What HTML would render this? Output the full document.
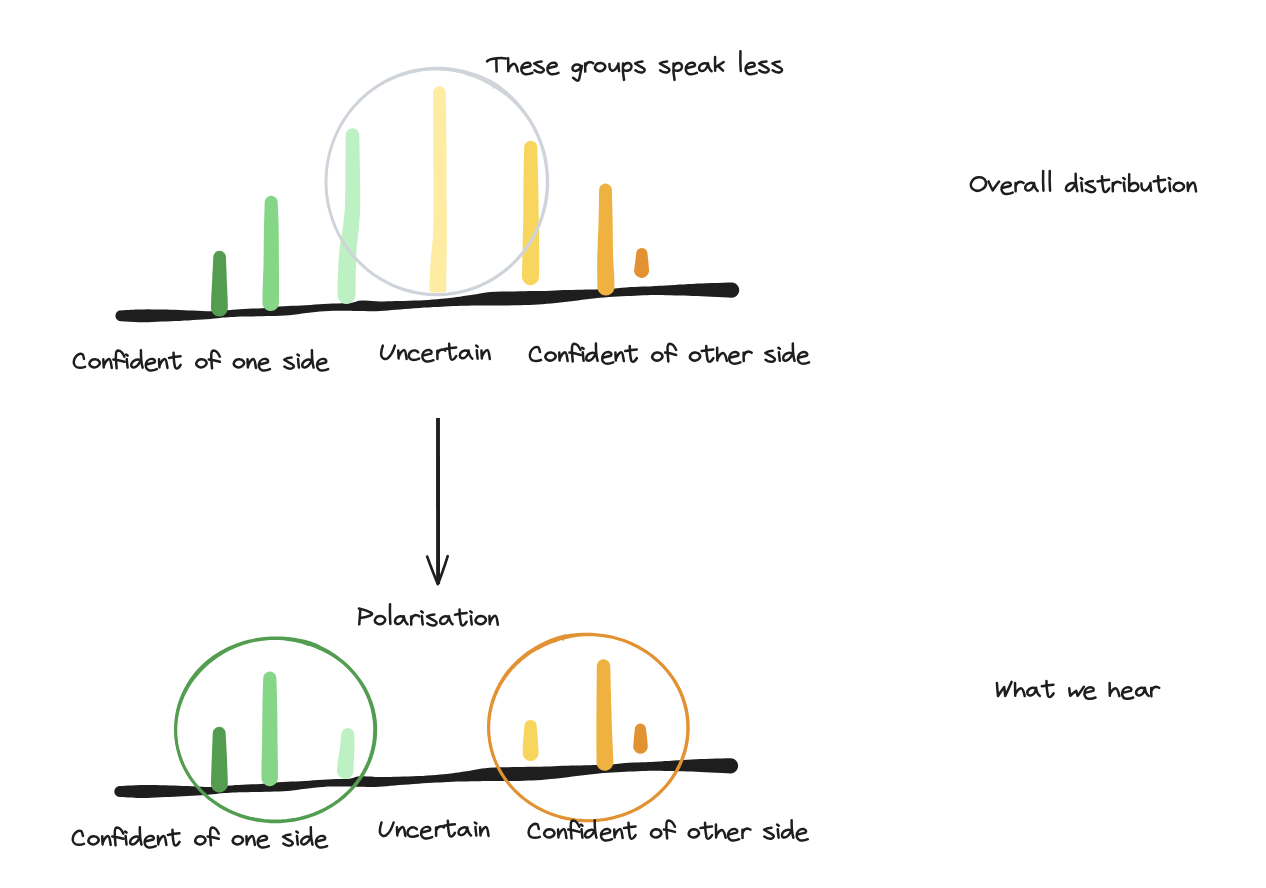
<!DOCTYPE html>
<html lang="en"><head><meta charset="utf-8"><title>Polarisation</title>
<style>
html,body{margin:0;padding:0;background:#fff;}
body{width:1266px;height:888px;overflow:hidden;font-family:"Liberation Sans",sans-serif;}
svg{display:block;}
.lbl{font-family:"Liberation Sans",sans-serif;font-size:22px;fill:#1e1e1e;fill-opacity:0;}
</style></head>
<body>
<svg width="1266" height="888" viewBox="0 0 1266 888">
<rect width="1266" height="888" fill="#ffffff"/>
<g id="top-chart">
<path fill="#fdeca1" d="M433.2,92.6L433.2,96.3L433.2,101.1L433.2,106.8L433.2,113.2L433.2,120.0L433.2,126.9L433.2,133.7L433.2,140.0L433.2,146.2L433.3,152.6L433.3,159.0L433.4,165.5L433.4,171.9L433.5,178.2L433.5,184.2L433.5,190.0L433.5,195.6L433.5,201.0L433.5,206.3L433.5,211.4L433.5,216.3L433.4,221.1L433.3,225.6L433.2,229.9L433.0,233.9L432.8,237.8L432.5,241.4L432.2,244.9L431.9,248.2L431.5,251.4L431.3,254.6L431.0,257.7L430.8,260.6L430.6,263.4L430.4,266.2L430.2,268.7L430.1,271.2L429.9,273.5L429.8,275.7L429.7,277.8L429.6,279.7L429.6,281.5L429.5,283.1L429.5,284.6L429.5,286.0L429.5,287.1L429.5,288.0L429.5,288.8L429.7,290.4L430.2,291.3L431.1,291.8L432.3,292.2L434.2,292.5L437.9,292.6L441.6,292.5L443.4,292.3L444.7,291.9L445.6,291.3L446.1,290.5L446.3,288.8L446.3,288.0L446.3,287.1L446.3,285.9L446.3,284.7L446.3,283.3L446.3,281.7L446.3,280.0L446.3,278.2L446.3,276.3L446.4,274.1L446.4,271.9L446.4,269.4L446.5,266.8L446.5,264.1L446.6,261.3L446.6,258.3L446.6,255.3L446.7,252.2L446.7,249.0L446.7,245.6L446.8,242.1L446.8,238.3L446.8,234.3L446.8,230.1L446.8,225.7L446.8,221.1L446.7,216.3L446.7,211.4L446.6,206.2L446.6,201.0L446.5,195.5L446.5,190.0L446.5,184.2L446.5,178.1L446.5,171.8L446.5,165.4L446.5,159.0L446.5,152.5L446.4,146.2L446.4,140.0L446.3,133.6L446.3,126.8L446.2,119.9L446.1,113.1L446.0,106.7L445.9,101.0L445.8,96.2L445.8,92.6L445.6,90.9L444.9,89.4L443.9,88.1L442.6,87.1L441.1,86.5L439.5,86.3L437.8,86.5L436.3,87.2L435.0,88.2L434.0,89.5L433.4,91.0Z"/>
<path fill="#1e1e1e" d="M120.8,321.2L122.1,321.3L124.0,321.4L126.2,321.5L128.6,321.7L131.0,321.8L133.3,321.9L135.6,322.1L138.1,322.2L141.0,322.2L144.3,322.2L148.1,322.2L152.5,322.0L157.1,321.8L161.8,321.6L166.4,321.4L170.8,321.3L175.2,321.1L179.6,320.9L184.1,320.6L188.5,320.4L193.1,320.1L197.8,319.8L202.4,319.5L206.8,319.2L210.8,318.9L214.2,318.6L217.2,318.2L219.9,317.9L222.5,317.6L225.3,317.4L228.1,317.2L230.9,317.0L233.7,316.9L236.7,316.8L240.2,316.6L244.1,316.5L248.4,316.5L253.0,316.4L257.7,316.3L262.3,316.2L266.7,316.1L271.2,316.0L275.6,315.9L280.1,315.8L284.5,315.5L289.0,315.2L293.4,314.7L297.8,314.2L302.2,313.6L306.6,313.1L311.1,312.6L315.5,312.1L319.9,311.6L324.3,311.2L328.7,310.9L333.2,310.7L337.9,310.7L342.6,310.7L347.0,310.8L350.8,310.8L353.8,310.9L356.1,310.9L357.9,311.0L359.5,311.0L361.7,311.1L364.7,311.1L368.2,311.2L372.0,311.2L376.0,311.2L380.1,311.0L384.0,310.8L387.9,310.5L391.9,310.1L396.0,309.8L400.2,309.4L404.8,309.0L409.7,308.7L414.6,308.3L419.5,308.0L424.2,307.6L428.8,307.4L433.3,307.1L437.7,306.9L441.7,306.7L445.3,306.5L448.2,306.3L450.5,306.2L452.6,306.1L454.7,306.0L457.4,305.9L460.6,305.8L464.3,305.7L468.1,305.7L471.9,305.6L475.5,305.6L478.6,305.5L481.3,305.5L484.0,305.4L487.0,305.4L490.9,305.4L495.9,305.4L501.8,305.4L508.2,305.4L514.5,305.3L520.1,305.2L525.0,305.1L529.5,304.9L533.8,304.7L538.1,304.5L542.4,304.2L546.9,303.8L551.4,303.4L555.8,303.0L560.2,302.5L564.6,302.0L569.0,301.5L573.4,300.9L577.8,300.4L582.2,299.8L586.6,299.3L591.0,298.8L595.5,298.3L599.9,297.8L604.3,297.4L608.8,297.0L613.3,296.7L617.8,296.5L622.2,296.3L626.6,296.1L630.8,295.9L635.0,295.7L639.1,295.5L643.1,295.3L646.8,295.2L650.1,295.0L652.9,295.0L655.0,295.0L657.0,295.0L659.2,295.1L662.2,295.1L666.0,295.2L670.3,295.3L675.0,295.4L679.7,295.5L684.3,295.6L688.6,295.8L692.9,295.9L697.3,296.1L701.7,296.3L706.3,296.5L711.5,296.7L717.3,297.0L723.1,297.3L728.0,297.5L731.5,297.7L733.5,297.5L735.3,296.7L736.9,295.5L738.1,294.0L738.9,292.2L739.2,290.2L739.0,288.2L738.2,286.4L737.0,284.8L735.5,283.6L733.7,282.8L731.7,282.5L728.2,282.6L723.2,282.7L717.5,282.9L711.6,283.0L706.3,283.2L701.7,283.4L697.2,283.6L692.8,283.9L688.5,284.1L684.1,284.4L679.5,284.6L674.8,284.9L670.1,285.2L665.8,285.4L662.0,285.7L659.1,285.8L656.8,286.0L654.8,286.1L652.6,286.2L649.9,286.4L646.5,286.5L642.7,286.6L638.7,286.7L634.6,286.9L630.4,287.1L626.1,287.4L621.7,287.8L617.2,288.3L612.7,288.7L608.2,289.0L603.8,289.2L599.4,289.3L594.9,289.4L590.4,289.5L586.0,289.6L581.5,289.7L577.1,289.8L572.6,289.9L568.2,290.0L563.8,290.1L559.3,290.3L554.9,290.5L550.5,290.7L546.1,290.9L541.8,291.0L537.5,291.1L533.4,291.1L529.2,291.1L524.7,291.2L519.9,291.3L514.3,291.4L508.0,291.5L501.6,291.6L495.6,291.8L490.3,292.1L486.2,292.5L483.0,292.9L480.2,293.4L477.5,293.9L474.5,294.4L471.0,295.0L467.3,295.5L463.5,296.1L459.9,296.7L456.6,297.1L454.0,297.5L451.8,297.8L449.8,298.0L447.6,298.2L444.7,298.5L441.1,298.8L437.1,299.2L432.8,299.5L428.3,299.9L423.8,300.2L419.1,300.4L414.2,300.6L409.2,300.7L404.4,300.9L399.8,301.0L395.5,301.1L391.4,301.2L387.5,301.3L383.7,301.4L379.9,301.4L376.2,301.2L372.3,300.9L368.5,300.7L364.9,300.5L361.5,300.5L358.7,300.8L356.5,301.4L354.8,302.0L353.0,302.5L350.4,303.0L346.8,303.2L342.5,303.3L337.8,303.4L333.0,303.5L328.3,303.7L323.8,304.0L319.3,304.3L314.8,304.6L310.4,305.0L306.0,305.3L301.5,305.5L297.1,305.7L292.7,305.8L288.3,306.0L283.9,306.3L279.5,306.6L275.1,307.0L270.7,307.5L266.3,307.9L261.9,308.2L257.4,308.5L252.8,308.6L248.2,308.8L243.8,309.0L239.8,309.2L236.3,309.4L233.2,309.7L230.4,309.9L227.6,310.2L224.7,310.4L221.9,310.6L219.2,310.9L216.6,311.1L213.7,311.2L210.4,311.3L206.6,311.2L202.3,311.1L197.7,310.8L193.0,310.6L188.5,310.4L184.0,310.2L179.6,310.0L175.2,309.8L170.7,309.7L166.2,309.6L161.7,309.5L156.9,309.4L152.3,309.4L148.0,309.3L144.1,309.4L140.9,309.4L138.1,309.5L135.7,309.6L133.3,309.7L131.0,309.8L128.6,309.9L126.2,310.1L124.0,310.2L122.1,310.3L120.8,310.4L119.4,310.6L118.1,311.1L117.0,312.0L116.1,313.1L115.6,314.4L115.4,315.8L115.6,317.2L116.1,318.5L117.0,319.6L118.1,320.5L119.4,321.0Z"/>
<path fill="#549d50" d="M213.3,257.1L213.2,258.9L213.1,261.3L212.9,264.3L212.8,267.5L212.6,270.9L212.4,274.2L212.3,277.3L212.2,280.0L212.0,282.3L211.9,284.5L211.8,286.6L211.7,288.6L211.6,290.5L211.5,292.4L211.4,294.2L211.3,296.0L211.2,297.8L211.2,299.6L211.1,301.4L211.1,303.1L211.0,304.6L211.0,306.0L211.0,307.2L211.0,308.1L211.2,310.3L212.1,312.3L213.4,314.1L215.2,315.4L217.2,316.3L219.4,316.5L221.6,316.3L223.6,315.4L225.4,314.1L226.7,312.3L227.6,310.3L227.8,308.1L227.8,307.2L227.8,306.0L227.8,304.6L227.7,303.0L227.7,301.4L227.6,299.6L227.6,297.8L227.5,296.0L227.4,294.3L227.4,292.5L227.3,290.6L227.2,288.7L227.1,286.7L227.0,284.6L226.9,282.4L226.8,280.0L226.7,277.3L226.6,274.3L226.5,270.9L226.3,267.6L226.2,264.3L226.1,261.4L226.0,258.9L225.9,257.1L225.7,255.5L225.1,254.0L224.1,252.7L222.8,251.7L221.3,251.0L219.6,250.8L218.0,251.0L216.5,251.6L215.2,252.6L214.2,253.9L213.5,255.4Z"/>
<path fill="#85d787" d="M264.7,202.3L264.6,204.1L264.6,206.2L264.5,208.8L264.4,211.8L264.3,215.0L264.2,218.5L264.1,222.2L264.0,226.0L263.9,230.2L263.9,235.0L263.8,240.1L263.7,245.4L263.7,250.7L263.6,255.8L263.5,260.6L263.5,264.9L263.4,268.8L263.2,272.4L263.1,275.8L263.0,279.0L262.9,282.0L262.8,284.8L262.7,287.4L262.6,289.9L262.5,292.2L262.5,294.3L262.5,296.2L262.5,297.9L262.5,299.4L262.5,300.7L262.5,301.9L262.5,302.7L262.7,304.9L263.5,306.9L264.8,308.6L266.5,309.9L268.5,310.8L270.6,311.0L272.8,310.8L274.8,310.0L276.5,308.7L277.8,307.0L278.7,305.0L278.9,302.9L279.0,301.9L279.0,300.8L279.0,299.5L279.0,298.0L279.0,296.3L279.0,294.4L279.0,292.4L279.0,290.1L279.0,287.7L279.0,285.1L279.0,282.3L279.0,279.3L279.0,276.1L279.0,272.6L279.0,269.0L278.9,265.1L278.9,260.7L278.9,255.9L278.9,250.8L278.8,245.4L278.8,240.1L278.7,235.0L278.7,230.2L278.6,226.0L278.5,222.1L278.4,218.4L278.3,214.9L278.1,211.7L278.0,208.7L277.9,206.2L277.8,204.0L277.7,202.3L277.5,200.6L276.8,199.0L275.8,197.7L274.4,196.7L272.8,196.0L271.2,195.8L269.5,196.0L267.9,196.7L266.6,197.7L265.6,199.1L264.9,200.7Z"/>
<path fill="#bdf0c2" d="M345.7,135.1L345.7,137.8L345.6,141.4L345.6,145.6L345.5,150.4L345.5,155.4L345.4,160.5L345.3,165.4L345.3,170.0L345.3,174.5L345.3,179.1L345.3,183.7L345.3,188.3L345.2,192.8L345.2,197.0L345.1,201.1L345.0,204.8L344.8,208.1L344.6,211.2L344.4,214.0L344.1,216.6L343.8,219.2L343.5,221.8L343.2,224.4L342.8,227.1L342.5,229.8L342.1,232.4L341.7,235.0L341.2,237.7L340.7,240.4L340.3,243.3L339.9,246.2L339.5,249.3L339.2,252.4L339.0,255.6L338.7,258.9L338.5,262.2L338.3,265.5L338.2,268.7L338.0,271.8L337.9,274.7L337.8,277.7L337.7,280.7L337.6,283.7L337.6,286.5L337.6,289.2L337.5,291.5L337.5,293.5L337.5,295.0L337.8,297.3L338.7,299.5L340.1,301.4L341.9,302.8L344.1,303.8L346.4,304.1L348.7,303.8L350.9,302.9L352.8,301.5L354.2,299.7L355.2,297.5L355.5,295.2L355.5,293.7L355.5,291.7L355.5,289.3L355.5,286.7L355.6,283.9L355.6,281.0L355.6,278.1L355.7,275.3L355.8,272.4L355.8,269.3L355.9,266.2L356.0,263.0L356.1,259.8L356.2,256.7L356.3,253.6L356.5,250.7L356.7,248.0L356.9,245.4L357.2,242.7L357.5,240.1L357.9,237.4L358.2,234.6L358.5,231.7L358.8,228.9L359.0,226.1L359.2,223.4L359.4,220.7L359.6,218.0L359.8,215.1L360.0,212.1L360.1,208.8L360.2,205.2L360.2,201.3L360.3,197.1L360.2,192.7L360.2,188.2L360.1,183.6L360.0,179.0L360.0,174.4L359.9,170.0L359.8,165.4L359.8,160.4L359.7,155.4L359.6,150.3L359.5,145.6L359.4,141.3L359.3,137.8L359.3,135.1L359.1,133.3L358.4,131.7L357.3,130.3L355.9,129.2L354.2,128.5L352.5,128.3L350.7,128.5L349.1,129.2L347.7,130.3L346.6,131.7L345.9,133.4Z"/>
<path fill="#f8d55c" d="M524.1,147.4L524.1,149.9L524.0,153.1L523.9,156.9L523.8,161.2L523.7,165.8L523.6,170.6L523.6,175.4L523.5,180.0L523.5,184.7L523.4,189.6L523.4,194.7L523.4,199.9L523.3,205.1L523.3,210.2L523.3,215.2L523.2,220.0L523.1,224.7L523.0,229.4L522.9,234.0L522.8,238.6L522.7,243.0L522.6,247.2L522.5,251.2L522.4,254.9L522.3,258.4L522.3,261.8L522.2,264.9L522.2,267.9L522.1,270.6L522.1,273.0L522.0,275.0L522.0,276.6L522.3,278.8L523.1,280.8L524.4,282.6L526.1,284.0L528.2,284.9L530.4,285.2L532.6,284.9L534.6,284.1L536.4,282.8L537.8,281.1L538.7,279.0L539.0,276.8L539.0,275.2L539.0,273.3L539.1,270.9L539.1,268.2L539.2,265.2L539.2,262.0L539.2,258.6L539.2,255.1L539.2,251.4L539.1,247.4L539.1,243.1L539.1,238.7L539.0,234.1L538.9,229.4L538.9,224.7L538.8,220.0L538.7,215.2L538.6,210.1L538.6,205.0L538.5,199.8L538.4,194.6L538.3,189.6L538.2,184.6L538.1,180.0L538.0,175.3L537.9,170.5L537.8,165.8L537.7,161.2L537.5,156.9L537.4,153.1L537.4,149.8L537.3,147.4L537.1,145.7L536.4,144.1L535.4,142.7L534.0,141.7L532.4,141.0L530.7,140.8L529.0,141.0L527.4,141.7L526.0,142.7L525.0,144.1L524.3,145.7Z"/>
<path fill="#efb240" d="M599.1,190.0L599.1,192.3L599.0,195.3L599.0,198.9L598.9,202.8L598.9,207.1L598.8,211.5L598.7,215.8L598.6,220.0L598.5,224.2L598.3,228.7L598.1,233.3L597.9,238.0L597.7,242.6L597.6,247.1L597.4,251.3L597.3,255.0L597.2,258.4L597.2,261.4L597.2,264.2L597.2,266.7L597.2,269.0L597.2,271.2L597.2,273.2L597.3,275.2L597.3,277.1L597.3,279.0L597.3,280.8L597.3,282.4L597.3,283.9L597.3,285.2L597.3,286.3L597.4,287.1L597.7,289.3L598.6,291.4L599.9,293.1L601.7,294.5L603.8,295.3L606.0,295.5L608.2,295.2L610.3,294.3L612.0,293.0L613.4,291.2L614.2,289.1L614.4,286.9L614.4,286.0L614.4,284.9L614.4,283.6L614.4,282.1L614.3,280.5L614.3,278.7L614.2,276.8L614.1,274.8L614.0,272.7L613.9,270.6L613.8,268.4L613.6,266.2L613.5,263.7L613.3,261.1L613.2,258.2L613.1,255.0L613.0,251.4L612.9,247.3L612.9,242.9L612.8,238.2L612.8,233.5L612.7,228.8L612.7,224.3L612.6,220.0L612.5,215.8L612.4,211.4L612.3,207.0L612.2,202.8L612.1,198.8L612.0,195.2L612.0,192.2L611.9,190.0L611.7,188.3L611.0,186.8L610.0,185.5L608.7,184.4L607.1,183.8L605.5,183.6L603.8,183.8L602.3,184.5L601.0,185.5L599.9,186.8L599.3,188.4Z"/>
<path fill="#e29232" d="M636.2,253.6L636.1,254.3L636.0,255.1L635.9,256.2L635.8,257.3L635.6,258.5L635.5,259.7L635.3,260.9L635.2,261.9L635.1,263.0L634.9,264.1L634.7,265.3L634.6,266.5L634.4,267.7L634.3,268.7L634.2,269.6L634.1,270.2L634.3,272.2L635.0,274.0L636.2,275.6L637.7,276.8L639.5,277.6L641.4,277.9L643.4,277.7L645.2,277.0L646.8,275.8L648.0,274.3L648.8,272.5L649.1,270.6L649.0,270.0L649.0,269.1L648.9,268.1L648.8,266.9L648.7,265.7L648.6,264.4L648.5,263.2L648.4,262.1L648.3,260.9L648.1,259.7L648.0,258.5L647.9,257.3L647.7,256.1L647.6,255.1L647.5,254.2L647.4,253.6L647.2,252.1L646.6,250.8L645.8,249.6L644.6,248.7L643.2,248.2L641.8,248.0L640.3,248.2L639.0,248.8L637.8,249.6L636.9,250.8L636.4,252.2Z"/>
<g fill="none" stroke="#ced4da" stroke-width="2.5" stroke-linecap="round" stroke-linejoin="round"><path d="M487.6,79.8L492.1,82.3L496.5,85.0L500.7,87.9L504.8,91.0L508.7,94.4L512.4,97.9L516.0,101.6L519.4,105.5L522.6,109.4L525.7,113.6L528.6,117.8L531.4,122.1L533.9,126.6L536.3,131.2L538.4,135.9L540.4,140.6L542.1,145.5L543.6,150.4L544.9,155.4L546.0,160.5L546.8,165.6L547.4,170.8L547.8,175.9L548.0,181.1L547.9,186.3L547.5,191.4L547.0,196.6L546.2,201.7L545.2,206.8L543.9,211.8L542.5,216.7L540.8,221.6L538.9,226.4L536.7,231.1L534.4,235.7L531.9,240.2L529.2,244.5L526.2,248.8L523.1,252.9L519.9,256.8L516.4,260.6L512.8,264.2L509.0,267.7L505.1,271.0L501.0,274.0L496.8,276.9L492.5,279.6L488.1,282.1L483.5,284.4L478.9,286.5L474.2,288.4L469.3,290.0L464.5,291.4L459.5,292.6L454.5,293.5L449.5,294.2L444.5,294.7L439.4,295.0L434.3,295.0L429.3,294.7L424.2,294.3L419.2,293.6L414.2,292.6L409.3,291.5L404.4,290.1L399.6,288.4L394.8,286.6L390.2,284.5L385.7,282.2L381.2,279.7L376.9,277.0L372.7,274.2L368.6,271.1L364.7,267.8L360.9,264.3L357.3,260.7L353.9,256.9L350.6,253.0L347.5,248.9L344.6,244.7L341.9,240.3L339.4,235.8L337.0,231.2L334.9,226.6L333.0,221.8L331.4,216.9L329.9,212.0L328.6,206.9L327.6,201.9L326.8,196.8L326.3,191.7L325.9,186.5L325.8,181.3L326.0,176.2L326.3,171.0L326.9,165.9L327.7,160.8L328.8,155.8L330.0,150.8L331.5,145.8L333.2,141.0L335.1,136.2L337.3,131.5L339.6,126.9L342.2,122.5L344.9,118.1L347.8,113.9L350.9,109.8L354.2,105.9L357.7,102.1L361.3,98.5L365.1,95.1L369.0,91.8L373.1,88.7L377.3,85.8L381.6,83.2L386.1,80.7L390.6,78.4L395.3,76.3L400.0,74.5L404.8,72.9L409.7,71.5L414.7,70.3L419.7,69.4L424.7,68.7L429.8,68.3L434.8,68.1L439.9,68.1L445.0,68.3L450.0,68.8L455.1,69.5L460.1,70.4L465.1,71.5L470.0,72.9L474.8,74.4L479.6,76.2L484.4,78.2L489.0,80.4L493.5,82.8L498.0,85.5"/><path d="M465.1,73.5L470.0,75.0L474.8,76.6L479.5,78.6L484.2,80.7L488.7,83.1L493.1,85.6L497.5,88.4L501.7,91.3L505.8,94.4L509.7,97.6L513.5,101.1L517.2,104.8L520.7,108.6L523.9,112.6L527.0,116.8L529.8,121.1L532.5,125.6L534.9,130.2L537.2,134.9L539.2,139.7L541.0,144.6L542.5,149.5L543.8,154.6L544.9,159.7L545.8,164.8L546.5,170.0L546.9,175.2L547.0,180.4L547.0,185.6L546.7,190.8L546.1,196.0L545.4,201.2L544.4,206.3L543.1,211.4L541.7,216.4L540.0,221.3L538.1,226.2L536.0,230.9L533.6,235.6L531.1,240.1L528.3,244.5L525.4,248.8L522.2,252.9L518.9,256.9L515.4,260.7L511.7,264.3L507.9,267.8L503.9,271.0L499.8,274.1L495.5,277.0L491.1,279.7L486.6,282.1L481.9,284.4L477.2,286.4L472.4,288.2L467.5,289.7L462.6,291.1L457.6,292.2L452.5,293.0L447.5,293.7L442.4,294.1L437.2,294.2L432.1,294.1L427.0,293.8L421.9,293.2L416.9,292.4L411.9,291.3L406.9,290.0L402.0,288.5L397.2,286.8L392.5,284.8L387.8,282.6L383.3,280.2L378.8,277.5L374.5,274.7L370.4,271.7L366.3,268.4L362.5,265.0L358.7,261.4L355.2,257.7L351.8,253.7L348.6,249.6L345.6,245.4L342.8,241.0L340.2,236.5L337.8,231.9L335.6,227.2L333.7,222.3L331.9,217.4L330.4,212.4L329.1,207.4L328.0,202.2L327.2,197.1L326.6,191.9L326.3,186.7L326.2,181.4L326.3,176.2L326.7,171.0L327.3,165.8L328.1,160.6L329.2,155.5L330.5,150.4L332.0,145.5L333.8,140.5L335.7,135.7L337.9,131.0L340.3,126.4L343.0,121.9L345.8,117.5L348.8,113.3L352.0,109.2L355.4,105.3L359.0,101.5L362.7,97.9L366.6,94.5L370.6,91.3L374.8,88.3L379.1,85.5L383.6,82.9L388.1,80.5L392.8,78.4L397.5,76.4L402.4,74.7L407.3,73.2L412.2,71.9L417.2,70.9L422.3,70.1L427.4,69.6L432.5,69.3L437.6,69.2L442.7,69.4L447.8,69.8L452.8,70.5L457.9,71.4L462.8,72.6L467.7,74.0L472.6,75.7L477.3,77.6L481.9,79.7L486.4,82.1"/><path stroke-width="1.5" d="M492.9,85.4 L493.6,88.3"/></g>
</g>
<g id="arrow" fill="none" stroke="#1e1e1e" stroke-linecap="round"><path stroke-width="3.9" stroke-linecap="butt" d="M438.0,418.1 L438.1,584"/><path stroke-width="2.7" stroke-linejoin="round" d="M427.2,556.6 C430.4,565.5 434.2,575.5 437.9,584.1 C441.4,575.5 444.8,565.5 447.7,556.2"/></g>
<g id="bottom-chart">
<path fill="#1e1e1e" d="M119.7,796.9L121.0,797.0L122.9,797.1L125.1,797.2L127.5,797.4L129.9,797.5L132.2,797.6L134.5,797.8L137.0,797.9L139.9,797.9L143.2,797.9L147.0,797.9L151.4,797.7L156.0,797.5L160.7,797.3L165.3,797.1L169.7,797.0L174.1,796.8L178.5,796.6L183.0,796.3L187.4,796.1L192.0,795.8L196.7,795.5L201.3,795.2L205.7,794.9L209.7,794.6L213.1,794.3L216.1,793.9L218.8,793.6L221.4,793.3L224.2,793.1L227.0,792.9L229.8,792.7L232.6,792.6L235.6,792.5L239.1,792.3L243.0,792.2L247.3,792.2L251.9,792.1L256.6,792.0L261.2,791.9L265.6,791.8L270.1,791.7L274.5,791.6L279.0,791.5L283.4,791.2L287.9,790.9L292.3,790.4L296.7,789.9L301.1,789.3L305.5,788.8L310.0,788.3L314.4,787.8L318.8,787.3L323.2,786.9L327.6,786.6L332.1,786.4L336.8,786.4L341.5,786.4L345.9,786.5L349.7,786.5L352.7,786.6L355.0,786.6L356.8,786.7L358.4,786.7L360.6,786.8L363.6,786.8L367.1,786.9L370.9,786.9L374.9,786.9L379.0,786.7L382.9,786.5L386.8,786.2L390.8,785.8L394.9,785.5L399.1,785.1L403.7,784.7L408.6,784.4L413.5,784.0L418.4,783.7L423.1,783.3L427.7,783.1L432.2,782.8L436.6,782.6L440.6,782.4L444.2,782.2L447.1,782.0L449.4,781.9L451.5,781.8L453.6,781.7L456.3,781.6L459.5,781.5L463.2,781.4L467.0,781.4L470.8,781.3L474.4,781.3L477.5,781.2L480.2,781.2L482.9,781.1L485.9,781.1L489.8,781.1L494.8,781.1L500.7,781.1L507.1,781.1L513.4,781.0L519.0,780.9L523.9,780.8L528.4,780.6L532.7,780.4L537.0,780.2L541.3,779.9L545.8,779.5L550.3,779.1L554.7,778.7L559.1,778.2L563.5,777.7L567.9,777.2L572.3,776.6L576.7,776.1L581.1,775.5L585.5,775.0L589.9,774.5L594.4,774.0L598.8,773.5L603.2,773.1L607.7,772.7L612.2,772.4L616.7,772.2L621.1,772.0L625.5,771.8L629.7,771.6L633.9,771.4L638.0,771.2L642.0,771.0L645.7,770.9L649.0,770.7L651.8,770.7L653.9,770.7L655.9,770.7L658.1,770.8L661.1,770.8L664.9,770.9L669.2,771.0L673.9,771.1L678.6,771.2L683.2,771.3L687.5,771.5L691.8,771.6L696.2,771.8L700.6,772.0L705.2,772.2L710.4,772.4L716.2,772.7L722.0,773.0L726.9,773.2L730.4,773.4L732.4,773.2L734.2,772.4L735.8,771.2L737.0,769.7L737.8,767.9L738.1,765.9L737.9,763.9L737.1,762.1L735.9,760.5L734.4,759.3L732.6,758.5L730.6,758.2L727.1,758.3L722.1,758.4L716.4,758.6L710.5,758.7L705.2,758.9L700.6,759.1L696.1,759.3L691.7,759.6L687.4,759.8L683.0,760.1L678.4,760.3L673.7,760.6L669.0,760.9L664.7,761.1L660.9,761.4L658.0,761.5L655.7,761.7L653.7,761.8L651.5,761.9L648.8,762.1L645.4,762.2L641.6,762.3L637.6,762.4L633.5,762.6L629.3,762.8L625.0,763.1L620.6,763.5L616.1,764.0L611.6,764.4L607.1,764.7L602.7,764.9L598.3,765.0L593.8,765.1L589.3,765.2L584.9,765.3L580.4,765.4L576.0,765.5L571.5,765.6L567.1,765.7L562.7,765.8L558.2,766.0L553.8,766.2L549.4,766.4L545.0,766.6L540.7,766.7L536.4,766.8L532.3,766.8L528.1,766.8L523.6,766.9L518.8,767.0L513.2,767.1L506.9,767.2L500.5,767.3L494.5,767.5L489.2,767.8L485.1,768.2L481.9,768.6L479.1,769.1L476.4,769.6L473.4,770.1L469.9,770.7L466.2,771.2L462.4,771.8L458.8,772.4L455.5,772.8L452.9,773.2L450.7,773.5L448.7,773.7L446.5,773.9L443.6,774.2L440.0,774.5L436.0,774.9L431.7,775.2L427.2,775.6L422.7,775.9L418.0,776.1L413.1,776.3L408.1,776.4L403.3,776.6L398.7,776.7L394.4,776.8L390.3,776.9L386.4,777.0L382.6,777.1L378.8,777.1L375.1,776.9L371.2,776.6L367.4,776.4L363.8,776.2L360.4,776.2L357.6,776.5L355.4,777.1L353.7,777.7L351.9,778.2L349.3,778.7L345.7,778.9L341.4,779.0L336.7,779.1L331.9,779.2L327.2,779.4L322.7,779.7L318.2,780.0L313.7,780.3L309.3,780.7L304.9,781.0L300.4,781.2L296.0,781.4L291.6,781.5L287.2,781.7L282.8,782.0L278.4,782.3L274.0,782.7L269.6,783.2L265.2,783.6L260.8,783.9L256.3,784.2L251.7,784.3L247.1,784.5L242.7,784.7L238.7,784.9L235.2,785.1L232.1,785.4L229.3,785.6L226.5,785.9L223.6,786.1L220.8,786.3L218.1,786.6L215.5,786.8L212.6,786.9L209.3,787.0L205.5,786.9L201.2,786.8L196.6,786.5L191.9,786.3L187.4,786.1L182.9,785.9L178.5,785.7L174.1,785.5L169.6,785.4L165.1,785.3L160.6,785.2L155.8,785.1L151.2,785.1L146.9,785.0L143.0,785.1L139.8,785.1L137.0,785.2L134.6,785.3L132.2,785.4L129.9,785.5L127.5,785.6L125.1,785.8L122.9,785.9L121.0,786.0L119.7,786.1L118.3,786.3L117.0,786.8L115.9,787.7L115.0,788.8L114.5,790.1L114.3,791.5L114.5,792.9L115.0,794.2L115.9,795.3L117.0,796.2L118.3,796.7Z"/>
<path fill="#549d50" d="M212.8,733.2L212.7,734.7L212.6,736.6L212.5,738.9L212.4,741.4L212.3,744.1L212.2,746.8L212.1,749.5L212.0,752.0L211.9,754.5L211.8,757.1L211.7,759.8L211.6,762.5L211.5,765.1L211.4,767.6L211.4,769.9L211.3,772.0L211.2,774.0L211.2,775.8L211.1,777.6L211.1,779.2L211.0,780.7L211.0,782.0L211.0,783.1L211.0,784.0L211.2,786.2L212.1,788.2L213.4,790.0L215.2,791.3L217.2,792.2L219.4,792.4L221.6,792.2L223.6,791.3L225.4,790.0L226.7,788.2L227.6,786.2L227.8,784.0L227.8,783.1L227.8,782.0L227.8,780.7L227.7,779.3L227.7,777.6L227.6,775.8L227.6,773.9L227.5,772.0L227.4,769.8L227.3,767.5L227.2,765.0L227.1,762.4L227.0,759.7L226.9,757.1L226.8,754.5L226.6,752.0L226.5,749.4L226.4,746.7L226.2,744.0L226.1,741.3L225.9,738.8L225.8,736.5L225.7,734.6L225.6,733.2L225.4,731.5L224.7,730.0L223.7,728.7L222.4,727.6L220.8,727.0L219.2,726.8L217.5,727.0L216.0,727.7L214.7,728.7L213.6,730.0L213.0,731.6Z"/>
<path fill="#85d787" d="M263.3,678.0L263.2,679.8L263.1,682.0L263.0,684.6L262.9,687.6L262.8,690.9L262.7,694.5L262.6,698.2L262.5,702.0L262.4,706.2L262.4,710.8L262.3,715.8L262.3,720.9L262.2,726.1L262.2,731.1L262.1,735.8L262.1,740.0L262.0,743.8L261.9,747.4L261.8,750.8L261.8,754.0L261.7,757.0L261.6,759.9L261.5,762.5L261.5,765.0L261.5,767.3L261.5,769.4L261.4,771.3L261.4,773.1L261.4,774.6L261.4,776.0L261.5,777.1L261.5,778.0L261.7,780.1L262.6,782.1L263.9,783.8L265.6,785.1L267.6,786.0L269.7,786.2L271.8,786.0L273.8,785.1L275.5,783.8L276.8,782.1L277.7,780.1L277.9,778.0L277.9,777.1L277.9,775.9L277.9,774.6L277.9,773.1L277.9,771.3L277.9,769.4L277.9,767.3L277.9,765.0L277.9,762.6L277.8,759.9L277.8,757.1L277.7,754.1L277.7,750.9L277.7,747.5L277.6,743.9L277.5,740.0L277.5,735.8L277.5,731.1L277.4,726.1L277.4,720.9L277.3,715.8L277.2,710.8L277.2,706.2L277.1,702.0L277.0,698.2L276.9,694.5L276.8,690.9L276.7,687.6L276.6,684.6L276.5,682.0L276.4,679.8L276.3,678.0L276.1,676.3L275.4,674.8L274.4,673.4L273.1,672.4L271.5,671.7L269.8,671.5L268.1,671.7L266.6,672.4L265.2,673.4L264.2,674.8L263.5,676.3Z"/>
<path fill="#bdf0c2" d="M341.3,734.3L341.2,735.4L341.1,736.8L340.9,738.4L340.7,740.2L340.5,742.0L340.3,743.9L340.1,745.8L339.9,747.5L339.7,749.1L339.4,750.9L339.1,752.6L338.9,754.5L338.6,756.3L338.3,758.0L338.0,759.7L337.8,761.3L337.7,762.8L337.5,764.2L337.4,765.5L337.3,766.8L337.2,767.9L337.1,768.9L337.1,769.7L337.0,770.3L337.2,772.4L337.9,774.4L339.0,776.2L340.7,777.6L342.6,778.6L344.7,779.0L346.8,778.8L348.8,778.1L350.6,777.0L352.0,775.3L353.0,773.4L353.4,771.3L353.4,770.7L353.5,769.8L353.5,768.9L353.5,767.8L353.6,766.6L353.6,765.4L353.7,764.0L353.8,762.7L353.8,761.3L353.9,759.7L354.0,757.9L354.1,756.1L354.2,754.2L354.3,752.3L354.4,750.4L354.5,748.5L354.5,746.6L354.5,744.6L354.5,742.6L354.4,740.7L354.4,738.9L354.4,737.2L354.3,735.9L354.3,734.9L354.1,733.2L353.6,731.6L352.6,730.2L351.3,729.1L349.7,728.4L348.1,728.1L346.4,728.3L344.8,728.8L343.4,729.8L342.3,731.1L341.6,732.7Z"/>
<path fill="#f8d55c" d="M524.3,726.2L524.2,727.3L524.1,728.7L523.9,730.4L523.8,732.3L523.6,734.3L523.5,736.3L523.3,738.2L523.2,740.0L523.1,741.8L523.0,743.7L522.9,745.6L522.8,747.4L522.8,749.2L522.7,750.8L522.6,752.1L522.6,753.1L522.9,755.1L523.7,757.1L525.0,758.7L526.7,760.0L528.6,760.7L530.7,761.0L532.7,760.7L534.7,759.9L536.3,758.6L537.6,756.9L538.3,755.0L538.6,752.9L538.5,751.9L538.5,750.6L538.4,749.0L538.3,747.3L538.2,745.4L538.0,743.6L537.9,741.7L537.8,740.0L537.7,738.2L537.5,736.3L537.4,734.3L537.2,732.3L537.0,730.4L536.9,728.7L536.8,727.3L536.7,726.2L536.5,724.6L535.9,723.1L534.9,721.8L533.6,720.8L532.1,720.2L530.5,720.0L528.9,720.2L527.4,720.8L526.1,721.8L525.1,723.1L524.5,724.6Z"/>
<path fill="#efb240" d="M596.8,666.1L596.8,668.7L596.7,672.1L596.7,676.3L596.7,680.9L596.6,685.7L596.6,690.7L596.5,695.5L596.5,700.1L596.5,704.5L596.5,709.1L596.4,713.8L596.4,718.5L596.4,723.0L596.4,727.4L596.4,731.5L596.4,735.1L596.4,738.5L596.4,741.5L596.4,744.4L596.4,747.0L596.5,749.3L596.5,751.5L596.5,753.4L596.5,755.2L596.5,756.7L596.5,758.0L596.5,759.1L596.5,760.0L596.5,760.8L596.5,761.4L596.5,762.0L596.5,762.5L596.8,764.7L597.7,766.7L599.0,768.4L600.8,769.7L602.8,770.5L605.0,770.8L607.2,770.5L609.2,769.6L610.9,768.3L612.2,766.5L613.0,764.5L613.3,762.3L613.3,761.8L613.3,761.3L613.3,760.7L613.3,759.9L613.2,758.9L613.2,757.8L613.2,756.4L613.1,754.8L613.0,753.0L612.9,751.0L612.8,748.8L612.7,746.5L612.6,743.9L612.5,741.2L612.3,738.1L612.2,734.9L612.1,731.2L611.9,727.2L611.8,722.8L611.6,718.3L611.5,713.6L611.4,708.9L611.2,704.3L611.1,699.9L611.0,695.4L610.8,690.6L610.7,685.6L610.6,680.8L610.5,676.2L610.4,672.0L610.3,668.6L610.2,665.9L610.0,664.2L609.3,662.6L608.2,661.2L606.8,660.2L605.2,659.5L603.4,659.3L601.7,659.5L600.1,660.2L598.7,661.3L597.7,662.7L597.0,664.3Z"/>
<path fill="#e29232" d="M634.8,729.3L634.7,730.0L634.6,730.9L634.5,731.9L634.4,733.2L634.3,734.4L634.1,735.7L634.0,736.9L633.9,738.0L633.8,739.1L633.7,740.3L633.6,741.5L633.5,742.7L633.4,743.9L633.3,744.9L633.3,745.7L633.2,746.4L633.4,748.3L634.2,750.0L635.3,751.6L636.8,752.7L638.6,753.4L640.5,753.7L642.4,753.5L644.1,752.7L645.7,751.6L646.8,750.1L647.5,748.3L647.8,746.4L647.7,745.8L647.7,744.9L647.6,743.9L647.5,742.8L647.4,741.6L647.3,740.3L647.2,739.1L647.1,738.0L647.0,736.8L646.8,735.6L646.7,734.3L646.5,733.0L646.3,731.8L646.2,730.7L646.1,729.8L646.0,729.1L645.8,727.7L645.2,726.3L644.3,725.2L643.1,724.3L641.8,723.8L640.3,723.6L638.9,723.8L637.5,724.4L636.4,725.3L635.5,726.5L635.0,727.8Z"/>
<g fill="none" stroke="#539d50" stroke-width="2.7" stroke-linecap="round" stroke-linejoin="round"><path d="M306.5,641.8L310.9,643.2L315.1,644.8L319.3,646.6L323.3,648.6L327.3,650.7L331.1,653.1L334.8,655.5L338.4,658.2L341.8,660.9L345.2,663.8L348.4,666.8L351.4,669.9L354.3,673.2L357.0,676.5L359.6,680.0L362.0,683.6L364.3,687.2L366.3,691.0L368.2,694.8L369.8,698.7L371.3,702.7L372.6,706.7L373.7,710.8L374.5,715.0L375.2,719.1L375.6,723.3L375.8,727.5L375.8,731.7L375.6,735.9L375.2,740.1L374.6,744.3L373.7,748.4L372.7,752.5L371.4,756.6L370.0,760.6L368.3,764.5L366.5,768.3L364.5,772.1L362.3,775.8L359.9,779.3L357.3,782.8L354.6,786.2L351.7,789.4L348.6,792.6L345.4,795.6L342.1,798.4L338.6,801.1L335.0,803.7L331.3,806.1L327.4,808.4L323.5,810.5L319.4,812.5L315.3,814.2L311.0,815.8L306.7,817.2L302.4,818.5L297.9,819.5L293.5,820.4L288.9,821.0L284.4,821.5L279.8,821.8L275.2,821.9L270.7,821.8L266.1,821.5L261.6,821.0L257.1,820.3L252.6,819.5L248.2,818.4L243.8,817.1L239.5,815.7L235.3,814.1L231.1,812.3L227.1,810.4L223.1,808.2L219.3,806.0L215.6,803.5L212.0,800.9L208.5,798.2L205.2,795.3L202.0,792.3L199.0,789.1L196.2,785.9L193.5,782.5L190.9,779.0L188.6,775.4L186.4,771.7L184.4,768.0L182.6,764.1L181.0,760.2L179.6,756.2L178.4,752.2L177.4,748.1L176.6,744.0L176.0,739.8L175.6,735.6L175.4,731.4L175.4,727.3L175.6,723.1L176.0,718.9L176.6,714.7L177.4,710.6L178.4,706.5L179.6,702.5L181.1,698.5L182.7,694.5L184.5,690.7L186.5,686.9L188.7,683.2L191.0,679.6L193.6,676.1L196.3,672.7L199.2,669.4L202.3,666.3L205.5,663.3L208.9,660.4L212.4,657.7L216.1,655.2L219.9,652.8L223.8,650.6L227.8,648.5L231.9,646.7L236.1,645.0L240.4,643.5L244.7,642.1L249.1,641.0L253.5,640.0L258.0,639.2L262.6,638.6L267.1,638.2L271.7,637.9L276.2,637.8L280.8,637.9L285.4,638.2L289.9,638.6L294.4,639.2L299.0,640.0L303.4,640.9L307.9,642.1L312.2,643.4L316.5,644.9"/><path d="M285.7,639.5L290.3,640.0L294.8,640.7L299.3,641.6L303.7,642.7L308.1,644.1L312.4,645.5L316.6,647.2L320.8,649.0L324.9,651.0L328.8,653.1L332.7,655.4L336.4,657.8L340.0,660.5L343.5,663.3L346.8,666.2L349.9,669.3L352.9,672.6L355.7,676.0L358.3,679.4L360.7,683.0L363.0,686.7L365.0,690.5L366.9,694.4L368.6,698.3L370.0,702.3L371.3,706.4L372.3,710.5L373.2,714.6L373.8,718.8L374.3,723.0L374.5,727.2L374.5,731.4L374.3,735.6L374.0,739.8L373.4,744.0L372.5,748.2L371.5,752.3L370.3,756.4L368.9,760.4L367.3,764.3L365.4,768.2L363.4,772.0L361.2,775.7L358.8,779.3L356.2,782.8L353.5,786.2L350.6,789.5L347.5,792.6L344.2,795.6L340.8,798.5L337.3,801.2L333.6,803.8L329.8,806.2L325.9,808.4L321.8,810.4L317.7,812.3L313.5,814.0L309.2,815.5L304.8,816.9L300.4,818.0L295.9,819.0L291.4,819.7L286.8,820.3L282.2,820.7L277.6,820.9L273.0,820.9L268.4,820.7L263.8,820.3L259.3,819.7L254.7,818.9L250.3,818.0L245.8,816.8L241.5,815.5L237.2,814.0L232.9,812.3L228.8,810.4L224.8,808.3L220.9,806.1L217.1,803.7L213.4,801.2L209.8,798.5L206.4,795.6L203.2,792.6L200.1,789.5L197.1,786.2L194.3,782.8L191.7,779.3L189.3,775.7L187.1,772.0L185.0,768.2L183.2,764.3L181.6,760.4L180.1,756.3L178.9,752.3L177.8,748.1L177.0,744.0L176.4,739.8L176.0,735.5L175.9,731.3L175.9,727.1L176.2,722.8L176.7,718.6L177.4,714.4L178.3,710.3L179.4,706.2L180.8,702.2L182.3,698.2L184.0,694.3L186.0,690.5L188.1,686.7L190.4,683.1L192.9,679.5L195.6,676.1L198.4,672.8L201.4,669.6L204.5,666.5L207.8,663.6L211.2,660.7L214.7,658.1L218.4,655.5L222.2,653.2L226.1,650.9L230.1,648.9L234.2,647.0L238.5,645.3L242.7,643.8L247.1,642.4L251.6,641.3L256.0,640.3L260.6,639.6L265.2,639.1L269.8,638.7L274.4,638.6L279.0,638.7L283.6,639.0L288.1,639.5L292.7,640.2L297.2,641.1L301.6,642.2L306.0,643.6"/><path stroke-width="1.5" d="M307.3,642.2 L307.7,645.3 M318.0,645.6 L318.6,648.9"/></g>
<g fill="none" stroke="#e29232" stroke-width="2.7" stroke-linecap="round" stroke-linejoin="round"><path d="M555.5,638.6L559.9,637.3L564.3,636.3L568.8,635.4L573.4,634.8L577.9,634.4L582.5,634.2L587.1,634.1L591.6,634.2L596.2,634.5L600.7,635.0L605.2,635.6L609.7,636.4L614.1,637.5L618.5,638.7L622.8,640.0L627.1,641.6L631.2,643.3L635.3,645.2L639.3,647.3L643.1,649.6L646.9,652.0L650.5,654.6L654.0,657.3L657.4,660.2L660.6,663.2L663.7,666.3L666.6,669.6L669.4,673.0L672.0,676.5L674.4,680.1L676.6,683.8L678.7,687.6L680.6,691.5L682.3,695.5L683.7,699.5L685.0,703.6L686.1,707.7L687.0,711.9L687.6,716.1L688.1,720.4L688.3,724.6L688.4,728.9L688.2,733.2L687.8,737.4L687.3,741.6L686.5,745.8L685.5,750.0L684.3,754.1L682.9,758.2L681.2,762.2L679.5,766.1L677.5,769.9L675.3,773.7L672.9,777.3L670.4,780.9L667.7,784.3L664.9,787.6L661.8,790.8L658.7,793.9L655.4,796.8L651.9,799.6L648.3,802.2L644.6,804.7L640.8,807.0L636.9,809.2L632.8,811.1L628.7,812.9L624.5,814.6L620.2,816.0L615.8,817.3L611.4,818.4L607.0,819.3L602.5,820.0L597.9,820.5L593.4,820.8L588.8,820.9L584.3,820.8L579.7,820.6L575.2,820.1L570.7,819.4L566.2,818.6L561.8,817.6L557.5,816.3L553.2,814.9L548.9,813.3L544.8,811.6L540.7,809.6L536.8,807.5L532.9,805.2L529.2,802.8L525.6,800.2L522.1,797.5L518.7,794.6L515.5,791.5L512.5,788.4L509.6,785.1L506.9,781.7L504.3,778.1L501.9,774.5L499.7,770.8L497.7,767.0L495.9,763.1L494.3,759.1L492.8,755.1L491.6,751.0L490.5,746.8L489.7,742.6L489.1,738.4L488.6,734.2L488.4,729.9L488.4,725.7L488.6,721.4L488.9,717.2L489.5,712.9L490.3,708.7L491.3,704.6L492.5,700.5L493.9,696.4L495.5,692.4L497.3,688.5L499.3,684.6L501.5,680.9L503.8,677.2L506.3,673.6L509.0,670.2L511.9,666.9L515.0,663.7L518.1,660.6L521.5,657.7L525.0,654.9L528.6,652.2L532.3,649.8L536.1,647.4L540.1,645.2L544.1,643.2L548.2,641.3L552.4,639.6L556.7,638.1L561.1,636.7L565.6,635.6"/><path d="M537.5,648.7L541.4,646.6L545.5,644.6L549.7,642.8L553.9,641.2L558.2,639.7L562.6,638.5L567.0,637.4L571.5,636.5L576.1,635.7L580.6,635.2L585.2,634.9L589.8,634.8L594.4,634.9L599.0,635.3L603.6,635.8L608.2,636.6L612.7,637.5L617.1,638.7L621.5,640.0L625.8,641.6L630.0,643.3L634.2,645.2L638.2,647.3L642.1,649.5L646.0,651.9L649.7,654.5L653.2,657.2L656.6,660.1L659.9,663.2L663.0,666.3L666.0,669.7L668.8,673.1L671.4,676.6L673.8,680.3L676.0,684.0L678.1,687.9L680.0,691.8L681.6,695.8L683.1,699.9L684.4,704.0L685.4,708.2L686.3,712.5L686.9,716.7L687.3,721.0L687.6,725.3L687.6,729.6L687.4,733.9L687.0,738.2L686.3,742.4L685.5,746.7L684.5,750.8L683.2,755.0L681.8,759.1L680.1,763.1L678.3,767.0L676.2,770.9L674.0,774.6L671.6,778.3L669.0,781.9L666.2,785.3L663.2,788.6L660.1,791.8L656.9,794.8L653.5,797.7L649.9,800.5L646.2,803.1L642.4,805.5L638.5,807.8L634.5,809.9L630.3,811.8L626.1,813.5L621.8,815.1L617.4,816.4L613.0,817.6L608.5,818.6L604.0,819.3L599.4,819.9L594.8,820.3L590.2,820.5L585.6,820.5L581.0,820.2L576.4,819.8L571.8,819.2L567.3,818.4L562.8,817.4L558.4,816.2L554.0,814.8L549.7,813.2L545.5,811.5L541.4,809.5L537.4,807.4L533.4,805.1L529.7,802.6L526.0,800.0L522.5,797.3L519.1,794.3L515.8,791.3L512.8,788.1L509.8,784.7L507.1,781.3L504.5,777.7L502.1,774.0L499.9,770.2L497.9,766.4L496.0,762.4L494.4,758.4L493.0,754.3L491.8,750.1L490.8,745.9L490.0,741.7L489.4,737.4L489.0,733.1L488.8,728.8L488.9,724.5L489.2,720.2L489.7,715.9L490.4,711.7L491.3,707.5L492.4,703.3L493.8,699.2L495.3,695.1L497.0,691.1L499.0,687.2L501.1,683.4L503.4,679.7L505.9,676.1L508.6,672.6L511.4,669.2L514.4,666.0L517.6,662.9L520.9,659.9L524.3,657.1L527.9,654.4L531.6,651.9L535.4,649.5L539.4,647.4L543.5,645.4L547.6,643.6L551.9,642.0L556.2,640.6"/><path stroke-width="1.5" d="M562.6,636.4 L563.2,640.2"/></g>
</g>
<g id="text" fill="none" stroke="#1e1e1e" stroke-width="2.50" stroke-linecap="round" stroke-linejoin="round">
<path d="M487.05,61.40C488.35,59.90 491.35,58.80 496.65,58.30C499.85,58.00 503.35,58.00 505.85,58.40M496.35,58.50C496.35,62.30 496.45,66.80 496.65,71.50M508.15,58.30C508.15,62.30 508.25,66.80 508.35,71.10M508.45,69.70C509.65,67.10 511.85,63.90 514.05,63.70C516.25,63.70 516.95,67.80 517.85,71.50M521.74,68.30L530.04,66.30C531.24,64.90 530.44,63.30 528.44,62.80C525.84,62.30 522.84,63.90 521.74,66.70C520.74,69.70 521.64,73.10 524.54,74.00C527.34,74.70 530.24,73.90 532.44,72.90M541.55,61.40C538.85,61.50 535.85,62.30 534.25,63.50C536.35,65.00 540.15,66.70 542.65,68.30C544.65,69.60 543.95,71.50 541.85,72.20C539.35,72.90 536.35,71.80 534.45,70.30M547.84,68.30L556.14,66.30C557.34,64.90 556.54,63.30 554.54,62.80C551.94,62.30 548.94,63.90 547.84,66.70C546.84,69.70 547.74,73.10 550.64,74.00C553.44,74.70 556.34,73.90 558.54,72.90M580.98,66.50C579.68,64.50 576.18,63.70 573.98,65.50C571.78,67.30 571.98,70.30 574.38,70.80C577.18,71.30 579.68,69.30 581.08,66.70M581.88,66.10C581.18,69.80 580.18,74.80 579.18,78.90C578.78,80.50 577.78,81.10 576.78,80.50C575.48,79.70 574.18,78.60 573.08,77.70"/>
<path d="M585.15,63.40C585.15,66.30 585.15,68.80 585.25,71.60M585.35,66.30C586.15,63.70 587.75,62.20 589.75,62.10C591.05,62.10 592.25,62.50 593.15,63.30M600.89,63.09C598.60,62.94 596.36,64.04 595.45,65.77C594.54,67.51 595.19,69.43 597.03,70.45C598.87,71.47 601.43,71.32 603.25,70.09C605.08,68.86 605.70,66.87 604.77,65.24C603.84,63.61 601.59,62.76 599.30,63.18M609.47,63.90C609.37,66.80 609.67,69.70 611.57,70.50C614.07,71.50 616.87,67.80 618.27,64.30M618.37,63.40C618.47,66.30 618.67,68.80 619.07,71.10M623.06,63.40C622.66,68.30 622.76,74.30 624.06,79.90M623.26,66.50C624.46,64.00 626.46,62.80 628.46,63.10C630.96,63.50 632.06,65.80 631.26,68.00C630.26,70.50 626.96,71.60 623.66,70.10M642.45,61.40C639.75,61.50 636.75,62.30 635.15,63.50C637.25,65.00 641.05,66.70 643.55,68.30C645.55,69.60 644.85,71.50 642.75,72.20C640.25,72.90 637.25,71.80 635.35,70.30M667.15,61.40C664.45,61.50 661.45,62.30 659.85,63.50C661.95,65.00 665.75,66.70 668.25,68.30C670.25,69.60 669.55,71.50 667.45,72.20C664.95,72.90 661.95,71.80 660.05,70.30"/>
<path d="M673.56,63.40C673.16,68.30 673.26,74.30 674.56,79.90M673.76,66.50C674.96,64.00 676.96,62.80 678.96,63.10C681.46,63.50 682.56,65.80 681.76,68.00C680.76,70.50 677.46,71.60 674.16,70.10M686.14,68.30L694.44,66.30C695.64,64.90 694.84,63.30 692.84,62.80C690.24,62.30 687.24,63.90 686.14,66.70C685.14,69.70 686.04,73.10 688.94,74.00C691.74,74.70 694.64,73.90 696.84,72.90M707.50,64.10C705.80,62.60 702.60,62.90 700.60,64.90C698.60,66.90 698.40,69.90 700.80,70.70C703.40,71.50 706.20,69.30 707.40,66.10C707.60,65.30 707.80,64.30 707.90,63.20C708.20,66.30 709.20,69.30 711.60,71.30M715.05,57.00C715.05,61.30 715.05,66.30 715.15,70.80M723.65,62.10C721.15,64.00 718.15,65.70 715.65,67.10M717.85,65.70C719.65,67.30 721.65,69.30 723.05,70.70M740.45,51.30C740.25,58.30 740.35,65.30 740.75,71.00M745.94,68.30L754.24,66.30C755.44,64.90 754.64,63.30 752.64,62.80C750.04,62.30 747.04,63.90 745.94,66.70C744.94,69.70 745.84,73.10 748.74,74.00C751.54,74.70 754.44,73.90 756.64,72.90"/>
<path d="M766.45,61.40C763.75,61.50 760.75,62.30 759.15,63.50C761.25,65.00 765.05,66.70 767.55,68.30C769.55,69.60 768.85,71.50 766.75,72.20C764.25,72.90 761.25,71.80 759.35,70.30M779.75,61.40C777.05,61.50 774.05,62.30 772.45,63.50C774.55,65.00 778.35,66.70 780.85,68.30C782.85,69.60 782.15,71.50 780.05,72.20C777.55,72.90 774.55,71.80 772.65,70.30M979.85,177.34C976.49,177.10 973.11,178.94 971.61,181.80C970.11,184.66 970.87,187.84 973.46,189.54C976.06,191.23 979.83,191.03 982.66,189.03C985.48,187.03 986.64,183.75 985.49,181.03C984.34,178.31 981.17,176.85 977.75,177.45M988.55,181.40C989.85,184.50 991.35,187.70 992.75,190.40C994.65,187.50 996.95,184.40 999.05,181.50M1001.94,188.00L1010.24,186.00C1011.44,184.60 1010.64,183.00 1008.64,182.50C1006.04,182.00 1003.04,183.60 1001.94,186.40C1000.94,189.40 1001.84,192.80 1004.74,193.70C1007.54,194.40 1010.44,193.60 1012.64,192.60M1015.55,183.10C1015.55,186.00 1015.55,188.50 1015.65,191.30M1015.75,186.00C1016.55,183.40 1018.15,181.90 1020.15,181.80C1021.45,181.80 1022.65,182.20 1023.55,183.00"/>
<path d="M1033.60,183.80C1031.90,182.30 1028.70,182.60 1026.70,184.60C1024.70,186.60 1024.50,189.60 1026.90,190.40C1029.50,191.20 1032.30,189.00 1033.50,185.80C1033.70,185.00 1033.90,184.00 1034.00,182.90C1034.30,186.00 1035.30,189.00 1037.70,191.00M1043.15,171.00C1042.95,178.00 1043.05,185.00 1043.45,190.70M1049.75,171.00C1049.55,178.00 1049.65,185.00 1050.05,190.70M1075.14,183.70C1073.04,182.80 1070.04,183.10 1067.74,184.90C1065.54,186.70 1065.24,190.20 1067.54,190.90C1070.04,191.60 1073.34,188.00 1075.34,184.40M1075.64,173.70C1075.54,180.00 1075.84,186.00 1077.34,191.10M1081.35,182.60C1081.55,185.50 1081.85,188.20 1082.25,191.10M1080.75,178.00L1082.25,179.10M1092.95,181.10C1090.25,181.20 1087.25,182.00 1085.65,183.20C1087.75,184.70 1091.55,186.40 1094.05,188.00C1096.05,189.30 1095.35,191.20 1093.25,191.90C1090.75,192.60 1087.75,191.50 1085.85,190.00"/>
<path d="M1102.05,176.20C1102.15,181.50 1102.65,187.00 1103.55,190.70C1104.15,192.50 1105.65,192.40 1106.95,191.30C1107.95,190.30 1108.65,189.30 1109.15,188.40M1097.45,181.40C1101.35,180.80 1105.35,180.20 1109.05,179.80M1112.75,183.10C1112.75,186.00 1112.75,188.50 1112.85,191.30M1112.95,186.00C1113.75,183.40 1115.35,181.90 1117.35,181.80C1118.65,181.80 1119.85,182.20 1120.75,183.00M1123.85,182.60C1124.05,185.50 1124.35,188.20 1124.75,191.10M1123.25,178.00L1124.75,179.10M1129.22,174.20C1129.12,180.00 1129.12,185.50 1129.22,190.60M1129.42,186.40C1130.83,184.00 1133.12,182.70 1135.22,183.10C1137.62,183.60 1138.83,185.80 1138.12,188.00C1137.12,190.70 1133.12,191.80 1129.33,190.20M1141.47,183.60C1141.37,186.50 1141.67,189.40 1143.57,190.20C1146.07,191.20 1148.87,187.50 1150.27,184.00M1150.37,183.10C1150.47,186.00 1150.67,188.50 1151.07,190.80M1158.15,176.20C1158.25,181.50 1158.75,187.00 1159.65,190.70C1160.25,192.50 1161.75,192.40 1163.05,191.30C1164.05,190.30 1164.75,189.30 1165.25,188.40M1153.55,181.40C1157.45,180.80 1161.45,180.20 1165.15,179.80"/>
<path d="M1169.35,182.60C1169.55,185.50 1169.85,188.20 1170.25,191.10M1168.75,178.00L1170.25,179.10M1179.59,182.79C1177.30,182.64 1175.06,183.74 1174.15,185.47C1173.24,187.21 1173.89,189.13 1175.73,190.15C1177.57,191.17 1180.13,191.02 1181.95,189.79C1183.78,188.56 1184.40,186.57 1183.47,184.94C1182.54,183.31 1180.29,182.46 1178.00,182.88M1187.65,182.80C1187.65,185.50 1187.85,188.20 1188.05,190.90M1188.15,189.20C1189.35,186.20 1191.35,183.00 1193.35,182.50C1195.15,182.50 1195.35,187.50 1196.05,191.40M84.02,358.90C83.62,356.70 83.22,354.90 82.42,354.10C79.62,353.00 76.12,355.00 74.62,358.50C73.22,362.00 73.62,365.70 76.62,367.10C79.42,368.20 82.62,367.70 85.02,366.80M95.39,359.29C93.10,359.14 90.86,360.24 89.95,361.97C89.04,363.71 89.69,365.63 91.53,366.65C93.37,367.67 95.93,367.52 97.75,366.29C99.58,365.06 100.20,363.07 99.27,361.44C98.34,359.81 96.09,358.96 93.80,359.38M103.35,359.30C103.35,362.00 103.55,364.70 103.75,367.40M103.85,365.70C105.05,362.70 107.05,359.50 109.05,359.00C110.85,359.00 111.05,364.00 111.75,367.90"/>
<path d="M124.45,356.70C123.25,354.00 120.75,350.50 118.05,350.50C116.05,350.70 115.75,353.50 115.85,356.50C115.95,360.50 116.25,364.50 116.65,368.30M113.35,359.40C116.75,359.70 120.75,360.70 124.45,361.80M126.75,359.10C126.95,362.00 127.25,364.70 127.65,367.60M126.15,354.50L127.65,355.60M140.44,360.20C138.34,359.30 135.34,359.60 133.04,361.40C130.84,363.20 130.54,366.70 132.84,367.40C135.34,368.10 138.64,364.50 140.64,360.90M140.94,350.20C140.84,356.50 141.14,362.50 142.64,367.60M146.14,364.50L154.44,362.50C155.64,361.10 154.84,359.50 152.84,359.00C150.24,358.50 147.24,360.10 146.14,362.90C145.14,365.90 146.04,369.30 148.94,370.20C151.74,370.90 154.64,370.10 156.84,369.10M159.05,359.30C159.05,362.00 159.25,364.70 159.45,367.40M159.55,365.70C160.75,362.70 162.75,359.50 164.75,359.00C166.55,359.00 166.75,364.00 167.45,367.90M173.55,352.70C173.65,358.00 174.15,363.50 175.05,367.20C175.65,369.00 177.15,368.90 178.45,367.80C179.45,366.80 180.15,365.80 180.65,364.90M168.95,357.90C172.85,357.30 176.85,356.70 180.55,356.30"/>
<path d="M202.19,359.29C199.90,359.14 197.66,360.24 196.75,361.97C195.84,363.71 196.49,365.63 198.33,366.65C200.17,367.67 202.73,367.52 204.55,366.29C206.38,365.06 207.00,363.07 206.07,361.44C205.14,359.81 202.89,358.96 200.60,359.38M219.85,356.70C218.65,354.00 216.15,350.50 213.45,350.50C211.45,350.70 211.15,353.50 211.25,356.50C211.35,360.50 211.65,364.50 212.05,368.30M208.75,359.40C212.15,359.70 216.15,360.70 219.85,361.80M239.69,359.29C237.40,359.14 235.16,360.24 234.25,361.97C233.34,363.71 233.99,365.63 235.83,366.65C237.67,367.67 240.23,367.52 242.05,366.29C243.88,365.06 244.50,363.07 243.57,361.44C242.64,359.81 240.39,358.96 238.10,359.38M247.55,359.30C247.55,362.00 247.75,364.70 247.95,367.40M248.05,365.70C249.25,362.70 251.25,359.50 253.25,359.00C255.05,359.00 255.25,364.00 255.95,367.90M259.24,364.50L267.54,362.50C268.74,361.10 267.94,359.50 265.94,359.00C263.34,358.50 260.34,360.10 259.24,362.90C258.24,365.90 259.14,369.30 262.04,370.20C264.84,370.90 267.74,370.10 269.94,369.10M291.55,357.60C288.85,357.70 285.85,358.50 284.25,359.70C286.35,361.20 290.15,362.90 292.65,364.50C294.65,365.80 293.95,367.70 291.85,368.40C289.35,369.10 286.35,368.00 284.45,366.50"/>
<path d="M298.05,359.10C298.25,362.00 298.55,364.70 298.95,367.60M297.45,354.50L298.95,355.60M311.44,360.20C309.34,359.30 306.34,359.60 304.04,361.40C301.84,363.20 301.54,366.70 303.84,367.40C306.34,368.10 309.64,364.50 311.64,360.90M311.94,350.20C311.84,356.50 312.14,362.50 313.64,367.60M317.44,364.50L325.74,362.50C326.94,361.10 326.14,359.50 324.14,359.00C321.54,358.50 318.54,360.10 317.44,362.90C316.44,365.90 317.34,369.30 320.24,370.20C323.04,370.90 325.94,370.10 328.14,369.10M382.82,345.60C381.72,349.10 380.72,353.10 381.32,355.80C382.02,358.90 385.22,359.90 387.72,358.20C391.22,355.60 393.52,350.10 394.92,345.60M398.25,350.40C398.25,353.10 398.45,355.80 398.65,358.50M398.75,356.80C399.95,353.80 401.95,350.60 403.95,350.10C405.75,350.10 405.95,355.10 406.65,359.00M418.17,352.30C416.77,350.40 413.77,349.80 411.27,351.40C408.77,353.10 408.07,356.40 409.77,358.40C412.07,360.60 416.27,359.90 419.17,358.60"/>
<path d="M422.74,355.60L431.04,353.60C432.24,352.20 431.44,350.60 429.44,350.10C426.84,349.60 423.84,351.20 422.74,354.00C421.74,357.00 422.64,360.40 425.54,361.30C428.34,362.00 431.24,361.20 433.44,360.20M437.35,350.70C437.35,353.60 437.35,356.10 437.45,358.90M437.55,353.60C438.35,351.00 439.95,349.50 441.95,349.40C443.25,349.40 444.45,349.80 445.35,350.60M449.15,343.80C449.25,349.10 449.75,354.60 450.65,358.30C451.25,360.10 452.75,360.00 454.05,358.90C455.05,357.90 455.75,356.90 456.25,356.00M444.55,349.00C448.45,348.40 452.45,347.80 456.15,347.40M468.20,351.40C466.50,349.90 463.30,350.20 461.30,352.20C459.30,354.20 459.10,357.20 461.50,358.00C464.10,358.80 466.90,356.60 468.10,353.40C468.30,352.60 468.50,351.60 468.60,350.50C468.90,353.60 469.90,356.60 472.30,358.60M476.75,350.20C476.95,353.10 477.25,355.80 477.65,358.70M476.15,345.60L477.65,346.70M481.45,350.40C481.45,353.10 481.65,355.80 481.85,358.50M481.95,356.80C483.15,353.80 485.15,350.60 487.15,350.10C488.95,350.10 489.15,355.10 489.85,359.00"/>
<path d="M540.02,352.10C539.62,349.90 539.22,348.10 538.42,347.30C535.62,346.20 532.12,348.20 530.62,351.70C529.22,355.20 529.62,358.90 532.62,360.30C535.42,361.40 538.62,360.90 541.02,360.00M551.29,352.49C549.00,352.34 546.76,353.44 545.85,355.17C544.94,356.91 545.59,358.83 547.43,359.85C549.27,360.87 551.83,360.72 553.65,359.49C555.48,358.26 556.10,356.27 555.17,354.64C554.24,353.01 551.99,352.16 549.70,352.58M559.25,352.50C559.25,355.20 559.45,357.90 559.65,360.60M559.75,358.90C560.95,355.90 562.95,352.70 564.95,352.20C566.75,352.20 566.95,357.20 567.65,361.10M580.55,349.90C579.35,347.20 576.85,343.70 574.15,343.70C572.15,343.90 571.85,346.70 571.95,349.70C572.05,353.70 572.35,357.70 572.75,361.50M569.45,352.60C572.85,352.90 576.85,353.90 580.55,355.00M582.75,352.30C582.95,355.20 583.25,357.90 583.65,360.80M582.15,347.70L583.65,348.80M595.44,353.40C593.34,352.50 590.34,352.80 588.04,354.60C585.84,356.40 585.54,359.90 587.84,360.60C590.34,361.30 593.64,357.70 595.64,354.10M595.94,343.40C595.84,349.70 596.14,355.70 597.64,360.80"/>
<path d="M602.54,357.70L610.84,355.70C612.04,354.30 611.24,352.70 609.24,352.20C606.64,351.70 603.64,353.30 602.54,356.10C601.54,359.10 602.44,362.50 605.34,363.40C608.14,364.10 611.04,363.30 613.24,362.30M615.45,352.50C615.45,355.20 615.65,357.90 615.85,360.60M615.95,358.90C617.15,355.90 619.15,352.70 621.15,352.20C622.95,352.20 623.15,357.20 623.85,361.10M629.75,345.90C629.85,351.20 630.35,356.70 631.25,360.40C631.85,362.20 633.35,362.10 634.65,361.00C635.65,360.00 636.35,359.00 636.85,358.10M625.15,351.10C629.05,350.50 633.05,349.90 636.75,349.50M658.09,352.49C655.80,352.34 653.56,353.44 652.65,355.17C651.74,356.91 652.39,358.83 654.23,359.85C656.07,360.87 658.63,360.72 660.45,359.49C662.28,358.26 662.90,356.27 661.97,354.64C661.04,353.01 658.79,352.16 656.50,352.58M676.15,349.90C674.95,347.20 672.45,343.70 669.75,343.70C667.75,343.90 667.45,346.70 667.55,349.70C667.65,353.70 667.95,357.70 668.35,361.50M665.05,352.60C668.45,352.90 672.45,353.90 676.15,355.00M695.79,352.49C693.50,352.34 691.26,353.44 690.35,355.17C689.44,356.91 690.09,358.83 691.93,359.85C693.77,360.87 696.33,360.72 698.15,359.49C699.98,358.26 700.60,356.27 699.67,354.64C698.74,353.01 696.49,352.16 694.20,352.58"/>
<path d="M706.25,345.90C706.35,351.20 706.85,356.70 707.75,360.40C708.35,362.20 709.85,362.10 711.15,361.00C712.15,360.00 712.85,359.00 713.35,358.10M701.65,351.10C705.55,350.50 709.55,349.90 713.25,349.50M717.15,347.70C717.15,351.70 717.25,356.20 717.35,360.50M717.45,359.10C718.65,356.50 720.85,353.30 723.05,353.10C725.25,353.10 725.95,357.20 726.85,360.90M729.64,357.70L737.94,355.70C739.14,354.30 738.34,352.70 736.34,352.20C733.74,351.70 730.74,353.30 729.64,356.10C728.64,359.10 729.54,362.50 732.44,363.40C735.24,364.10 738.14,363.30 740.34,362.30M743.65,352.80C743.65,355.70 743.65,358.20 743.75,361.00M743.85,355.70C744.65,353.10 746.25,351.60 748.25,351.50C749.55,351.50 750.75,351.90 751.65,352.70M772.65,350.80C769.95,350.90 766.95,351.70 765.35,352.90C767.45,354.40 771.25,356.10 773.75,357.70C775.75,359.00 775.05,360.90 772.95,361.60C770.45,362.30 767.45,361.20 765.55,359.70M778.95,352.30C779.15,355.20 779.45,357.90 779.85,360.80M778.35,347.70L779.85,348.80"/>
<path d="M792.34,353.40C790.24,352.50 787.24,352.80 784.94,354.60C782.74,356.40 782.44,359.90 784.74,360.60C787.24,361.30 790.54,357.70 792.54,354.10M792.84,343.40C792.74,349.70 793.04,355.70 794.54,360.80M798.34,357.70L806.64,355.70C807.84,354.30 807.04,352.70 805.04,352.20C802.44,351.70 799.44,353.30 798.34,356.10C797.34,359.10 798.24,362.50 801.14,363.40C803.94,364.10 806.84,363.30 809.04,362.30M360.35,609.30C360.05,614.30 359.65,619.30 359.25,624.30M358.95,608.50C362.85,609.30 367.85,610.80 371.35,612.80C372.65,613.70 372.35,614.70 370.35,615.50C367.35,616.70 363.85,617.50 360.25,618.10M380.79,616.09C378.50,615.94 376.26,617.04 375.35,618.77C374.44,620.51 375.09,622.43 376.93,623.45C378.77,624.47 381.33,624.32 383.15,623.09C384.98,621.86 385.60,619.87 384.67,618.24C383.74,616.61 381.49,615.76 379.20,616.18M390.05,604.30C389.85,611.30 389.95,618.30 390.35,624.00M403.40,617.10C401.70,615.60 398.50,615.90 396.50,617.90C394.50,619.90 394.30,622.90 396.70,623.70C399.30,624.50 402.10,622.30 403.30,619.10C403.50,618.30 403.70,617.30 403.80,616.20C404.10,619.30 405.10,622.30 407.50,624.30"/>
<path d="M411.15,616.40C411.15,619.30 411.15,621.80 411.25,624.60M411.35,619.30C412.15,616.70 413.75,615.20 415.75,615.10C417.05,615.10 418.25,615.50 419.15,616.30M421.85,615.90C422.05,618.80 422.35,621.50 422.75,624.40M421.25,611.30L422.75,612.40M434.35,614.40C431.65,614.50 428.65,615.30 427.05,616.50C429.15,618.00 432.95,619.70 435.45,621.30C437.45,622.60 436.75,624.50 434.65,625.20C432.15,625.90 429.15,624.80 427.25,623.30M448.50,617.10C446.80,615.60 443.60,615.90 441.60,617.90C439.60,619.90 439.40,622.90 441.80,623.70C444.40,624.50 447.20,622.30 448.40,619.10C448.60,618.30 448.80,617.30 448.90,616.20C449.20,619.30 450.20,622.30 452.60,624.30M459.55,609.50C459.65,614.80 460.15,620.30 461.05,624.00C461.65,625.80 463.15,625.70 464.45,624.60C465.45,623.60 466.15,622.60 466.65,621.70M454.95,614.70C458.85,614.10 462.85,613.50 466.55,613.10M470.85,615.90C471.05,618.80 471.35,621.50 471.75,624.40M470.25,611.30L471.75,612.40"/>
<path d="M481.49,616.09C479.20,615.94 476.96,617.04 476.05,618.77C475.14,620.51 475.79,622.43 477.63,623.45C479.47,624.47 482.03,624.32 483.85,623.09C485.68,621.86 486.30,619.87 485.37,618.24C484.44,616.61 482.19,615.76 479.90,616.18M489.45,616.10C489.45,618.80 489.65,621.50 489.85,624.20M489.95,622.50C491.15,619.50 493.15,616.30 495.15,615.80C496.95,615.80 497.15,620.80 497.85,624.70M996.95,683.10C997.25,687.40 997.55,691.90 998.05,696.00C1000.05,692.90 1002.35,689.70 1004.25,687.10C1004.55,689.90 1004.85,692.90 1005.25,696.00C1007.35,691.40 1009.55,686.40 1011.55,681.90M1015.05,682.90C1015.05,686.90 1015.15,691.40 1015.25,695.70M1015.35,694.30C1016.55,691.70 1018.75,688.50 1020.95,688.30C1023.15,688.30 1023.85,692.40 1024.75,696.10M1035.70,688.70C1034.00,687.20 1030.80,687.50 1028.80,689.50C1026.80,691.50 1026.60,694.50 1029.00,695.30C1031.60,696.10 1034.40,693.90 1035.60,690.70C1035.80,689.90 1036.00,688.90 1036.10,687.80C1036.40,690.90 1037.40,693.90 1039.80,695.90M1046.45,681.10C1046.55,686.40 1047.05,691.90 1047.95,695.60C1048.55,697.40 1050.05,697.30 1051.35,696.20C1052.35,695.20 1053.05,694.20 1053.55,693.30M1041.85,686.30C1045.75,685.70 1049.75,685.10 1053.45,684.70"/>
<path d="M1069.25,688.20C1069.45,690.90 1069.75,693.40 1070.25,695.80C1071.95,694.10 1074.45,692.10 1076.25,690.70C1076.65,692.40 1077.15,694.10 1077.65,695.80C1079.75,692.90 1081.95,689.90 1083.95,686.70M1084.84,692.90L1093.14,690.90C1094.34,689.50 1093.54,687.90 1091.54,687.40C1088.94,686.90 1085.94,688.50 1084.84,691.30C1083.84,694.30 1084.74,697.70 1087.64,698.60C1090.44,699.30 1093.34,698.50 1095.54,697.50M1109.65,682.90C1109.65,686.90 1109.75,691.40 1109.85,695.70M1109.95,694.30C1111.15,691.70 1113.35,688.50 1115.55,688.30C1117.75,688.30 1118.45,692.40 1119.35,696.10M1122.54,692.90L1130.84,690.90C1132.04,689.50 1131.24,687.90 1129.24,687.40C1126.64,686.90 1123.64,688.50 1122.54,691.30C1121.54,694.30 1122.44,697.70 1125.34,698.60C1128.14,699.30 1131.04,698.50 1133.24,697.50M1144.50,688.70C1142.80,687.20 1139.60,687.50 1137.60,689.50C1135.60,691.50 1135.40,694.50 1137.80,695.30C1140.40,696.10 1143.20,693.90 1144.40,690.70C1144.60,689.90 1144.80,688.90 1144.90,687.80C1145.20,690.90 1146.20,693.90 1148.60,695.90M1151.25,688.00C1151.25,690.90 1151.25,693.40 1151.35,696.20M1151.45,690.90C1152.25,688.30 1153.85,686.80 1155.85,686.70C1157.15,686.70 1158.35,687.10 1159.25,687.90"/>
<path d="M82.92,835.90C82.52,833.70 82.12,831.90 81.32,831.10C78.52,830.00 75.02,832.00 73.52,835.50C72.12,839.00 72.52,842.70 75.52,844.10C78.32,845.20 81.52,844.70 83.92,843.80M94.29,836.29C92.00,836.14 89.76,837.24 88.85,838.97C87.94,840.71 88.59,842.63 90.43,843.65C92.27,844.67 94.83,844.52 96.65,843.29C98.48,842.06 99.10,840.07 98.17,838.44C97.24,836.81 94.99,835.96 92.70,836.38M102.25,836.30C102.25,839.00 102.45,841.70 102.65,844.40M102.75,842.70C103.95,839.70 105.95,836.50 107.95,836.00C109.75,836.00 109.95,841.00 110.65,844.90M123.35,833.70C122.15,831.00 119.65,827.50 116.95,827.50C114.95,827.70 114.65,830.50 114.75,833.50C114.85,837.50 115.15,841.50 115.55,845.30M112.25,836.40C115.65,836.70 119.65,837.70 123.35,838.80M125.65,836.10C125.85,839.00 126.15,841.70 126.55,844.60M125.05,831.50L126.55,832.60M139.34,837.20C137.24,836.30 134.24,836.60 131.94,838.40C129.74,840.20 129.44,843.70 131.74,844.40C134.24,845.10 137.54,841.50 139.54,837.90M139.84,827.20C139.74,833.50 140.04,839.50 141.54,844.60"/>
<path d="M145.04,841.50L153.34,839.50C154.54,838.10 153.74,836.50 151.74,836.00C149.14,835.50 146.14,837.10 145.04,839.90C144.04,842.90 144.94,846.30 147.84,847.20C150.64,847.90 153.54,847.10 155.74,846.10M157.95,836.30C157.95,839.00 158.15,841.70 158.35,844.40M158.45,842.70C159.65,839.70 161.65,836.50 163.65,836.00C165.45,836.00 165.65,841.00 166.35,844.90M172.45,829.70C172.55,835.00 173.05,840.50 173.95,844.20C174.55,846.00 176.05,845.90 177.35,844.80C178.35,843.80 179.05,842.80 179.55,841.90M167.85,834.90C171.75,834.30 175.75,833.70 179.45,833.30M201.09,836.29C198.80,836.14 196.56,837.24 195.65,838.97C194.74,840.71 195.39,842.63 197.23,843.65C199.07,844.67 201.63,844.52 203.45,843.29C205.28,842.06 205.90,840.07 204.97,838.44C204.04,836.81 201.79,835.96 199.50,836.38M218.75,833.70C217.55,831.00 215.05,827.50 212.35,827.50C210.35,827.70 210.05,830.50 210.15,833.50C210.25,837.50 210.55,841.50 210.95,845.30M207.65,836.40C211.05,836.70 215.05,837.70 218.75,838.80M238.59,836.29C236.30,836.14 234.06,837.24 233.15,838.97C232.24,840.71 232.89,842.63 234.73,843.65C236.57,844.67 239.13,844.52 240.95,843.29C242.78,842.06 243.40,840.07 242.47,838.44C241.54,836.81 239.29,835.96 237.00,836.38"/>
<path d="M246.45,836.30C246.45,839.00 246.65,841.70 246.85,844.40M246.95,842.70C248.15,839.70 250.15,836.50 252.15,836.00C253.95,836.00 254.15,841.00 254.85,844.90M258.14,841.50L266.44,839.50C267.64,838.10 266.84,836.50 264.84,836.00C262.24,835.50 259.24,837.10 258.14,839.90C257.14,842.90 258.04,846.30 260.94,847.20C263.74,847.90 266.64,847.10 268.84,846.10M290.45,834.60C287.75,834.70 284.75,835.50 283.15,836.70C285.25,838.20 289.05,839.90 291.55,841.50C293.55,842.80 292.85,844.70 290.75,845.40C288.25,846.10 285.25,845.00 283.35,843.50M296.95,836.10C297.15,839.00 297.45,841.70 297.85,844.60M296.35,831.50L297.85,832.60M310.34,837.20C308.24,836.30 305.24,836.60 302.94,838.40C300.74,840.20 300.44,843.70 302.74,844.40C305.24,845.10 308.54,841.50 310.54,837.90M310.84,827.20C310.74,833.50 311.04,839.50 312.54,844.60M316.34,841.50L324.64,839.50C325.84,838.10 325.04,836.50 323.04,836.00C320.44,835.50 317.44,837.10 316.34,839.90C315.34,842.90 316.24,846.30 319.14,847.20C321.94,847.90 324.84,847.10 327.04,846.10"/>
<path d="M381.52,822.50C380.42,826.00 379.42,830.00 380.02,832.70C380.72,835.80 383.92,836.80 386.42,835.10C389.92,832.50 392.22,827.00 393.62,822.50M396.95,827.30C396.95,830.00 397.15,832.70 397.35,835.40M397.45,833.70C398.65,830.70 400.65,827.50 402.65,827.00C404.45,827.00 404.65,832.00 405.35,835.90M416.87,829.20C415.47,827.30 412.47,826.70 409.97,828.30C407.47,830.00 406.77,833.30 408.47,835.30C410.77,837.50 414.97,836.80 417.87,835.50M421.44,832.50L429.74,830.50C430.94,829.10 430.14,827.50 428.14,827.00C425.54,826.50 422.54,828.10 421.44,830.90C420.44,833.90 421.34,837.30 424.24,838.20C427.04,838.90 429.94,838.10 432.14,837.10M436.05,827.60C436.05,830.50 436.05,833.00 436.15,835.80M436.25,830.50C437.05,827.90 438.65,826.40 440.65,826.30C441.95,826.30 443.15,826.70 444.05,827.50M447.85,820.70C447.95,826.00 448.45,831.50 449.35,835.20C449.95,837.00 451.45,836.90 452.75,835.80C453.75,834.80 454.45,833.80 454.95,832.90M443.25,825.90C447.15,825.30 451.15,824.70 454.85,824.30"/>
<path d="M466.90,828.30C465.20,826.80 462.00,827.10 460.00,829.10C458.00,831.10 457.80,834.10 460.20,834.90C462.80,835.70 465.60,833.50 466.80,830.30C467.00,829.50 467.20,828.50 467.30,827.40C467.60,830.50 468.60,833.50 471.00,835.50M475.45,827.10C475.65,830.00 475.95,832.70 476.35,835.60M474.85,822.50L476.35,823.60M480.15,827.30C480.15,830.00 480.35,832.70 480.55,835.40M480.65,833.70C481.85,830.70 483.85,827.50 485.85,827.00C487.65,827.00 487.85,832.00 488.55,835.90M538.82,829.00C538.42,826.80 538.02,825.00 537.22,824.20C534.42,823.10 530.92,825.10 529.42,828.60C528.02,832.10 528.42,835.80 531.42,837.20C534.22,838.30 537.42,837.80 539.82,836.90M550.09,829.39C547.80,829.24 545.56,830.34 544.65,832.07C543.74,833.81 544.39,835.73 546.23,836.75C548.07,837.77 550.63,837.62 552.45,836.39C554.28,835.16 554.90,833.17 553.97,831.54C553.04,829.91 550.79,829.06 548.50,829.48M558.05,829.40C558.05,832.10 558.25,834.80 558.45,837.50M558.55,835.80C559.75,832.80 561.75,829.60 563.75,829.10C565.55,829.10 565.75,834.10 566.45,838.00"/>
<path d="M579.35,826.80C578.15,824.10 575.65,820.60 572.95,820.60C570.95,820.80 570.65,823.60 570.75,826.60C570.85,830.60 571.15,834.60 571.55,838.40M568.25,829.50C571.65,829.80 575.65,830.80 579.35,831.90M581.55,829.20C581.75,832.10 582.05,834.80 582.45,837.70M580.95,824.60L582.45,825.70M594.24,830.30C592.14,829.40 589.14,829.70 586.84,831.50C584.64,833.30 584.34,836.80 586.64,837.50C589.14,838.20 592.44,834.60 594.44,831.00M594.74,820.30C594.64,826.60 594.94,832.60 596.44,837.70M601.34,834.60L609.64,832.60C610.84,831.20 610.04,829.60 608.04,829.10C605.44,828.60 602.44,830.20 601.34,833.00C600.34,836.00 601.24,839.40 604.14,840.30C606.94,841.00 609.84,840.20 612.04,839.20M614.25,829.40C614.25,832.10 614.45,834.80 614.65,837.50M614.75,835.80C615.95,832.80 617.95,829.60 619.95,829.10C621.75,829.10 621.95,834.10 622.65,838.00M628.55,822.80C628.65,828.10 629.15,833.60 630.05,837.30C630.65,839.10 632.15,839.00 633.45,837.90C634.45,836.90 635.15,835.90 635.65,835.00M623.95,828.00C627.85,827.40 631.85,826.80 635.55,826.40"/>
<path d="M656.89,829.39C654.60,829.24 652.36,830.34 651.45,832.07C650.54,833.81 651.19,835.73 653.03,836.75C654.87,837.77 657.43,837.62 659.25,836.39C661.08,835.16 661.70,833.17 660.77,831.54C659.84,829.91 657.59,829.06 655.30,829.48M674.95,826.80C673.75,824.10 671.25,820.60 668.55,820.60C666.55,820.80 666.25,823.60 666.35,826.60C666.45,830.60 666.75,834.60 667.15,838.40M663.85,829.50C667.25,829.80 671.25,830.80 674.95,831.90M694.59,829.39C692.30,829.24 690.06,830.34 689.15,832.07C688.24,833.81 688.89,835.73 690.73,836.75C692.57,837.77 695.13,837.62 696.95,836.39C698.78,835.16 699.40,833.17 698.47,831.54C697.54,829.91 695.29,829.06 693.00,829.48M705.05,822.80C705.15,828.10 705.65,833.60 706.55,837.30C707.15,839.10 708.65,839.00 709.95,837.90C710.95,836.90 711.65,835.90 712.15,835.00M700.45,828.00C704.35,827.40 708.35,826.80 712.05,826.40M715.95,824.60C715.95,828.60 716.05,833.10 716.15,837.40M716.25,836.00C717.45,833.40 719.65,830.20 721.85,830.00C724.05,830.00 724.75,834.10 725.65,837.80M728.44,834.60L736.74,832.60C737.94,831.20 737.14,829.60 735.14,829.10C732.54,828.60 729.54,830.20 728.44,833.00C727.44,836.00 728.34,839.40 731.24,840.30C734.04,841.00 736.94,840.20 739.14,839.20"/>
<path d="M742.45,829.70C742.45,832.60 742.45,835.10 742.55,837.90M742.65,832.60C743.45,830.00 745.05,828.50 747.05,828.40C748.35,828.40 749.55,828.80 750.45,829.60M771.45,827.70C768.75,827.80 765.75,828.60 764.15,829.80C766.25,831.30 770.05,833.00 772.55,834.60C774.55,835.90 773.85,837.80 771.75,838.50C769.25,839.20 766.25,838.10 764.35,836.60M777.75,829.20C777.95,832.10 778.25,834.80 778.65,837.70M777.15,824.60L778.65,825.70M791.14,830.30C789.04,829.40 786.04,829.70 783.74,831.50C781.54,833.30 781.24,836.80 783.54,837.50C786.04,838.20 789.34,834.60 791.34,831.00M791.64,820.30C791.54,826.60 791.84,832.60 793.34,837.70M797.14,834.60L805.44,832.60C806.64,831.20 805.84,829.60 803.84,829.10C801.24,828.60 798.24,830.20 797.14,833.00C796.14,836.00 797.04,839.40 799.94,840.30C802.74,841.00 805.64,840.20 807.84,839.20"/>
</g>
<g id="labels">
<text class="lbl" x="485.8" y="71.3" textLength="297.5" lengthAdjust="spacingAndGlyphs">These groups speak less</text>
<text class="lbl" x="969.6" y="191.0" textLength="227.7" lengthAdjust="spacingAndGlyphs">Overall distribution</text>
<text class="lbl" x="72.6" y="367.5" textLength="256.8" lengthAdjust="spacingAndGlyphs">Confident of one side</text>
<text class="lbl" x="379.9" y="358.6" textLength="111.2" lengthAdjust="spacingAndGlyphs">Uncertain</text>
<text class="lbl" x="528.6" y="360.7" textLength="281.7" lengthAdjust="spacingAndGlyphs">Confident of other side</text>
<text class="lbl" x="357.7" y="624.3" textLength="141.4" lengthAdjust="spacingAndGlyphs">Polarisation</text>
<text class="lbl" x="995.7" y="695.9" textLength="164.8" lengthAdjust="spacingAndGlyphs">What we hear</text>
<text class="lbl" x="71.5" y="844.5" textLength="256.8" lengthAdjust="spacingAndGlyphs">Confident of one side</text>
<text class="lbl" x="378.6" y="835.5" textLength="111.2" lengthAdjust="spacingAndGlyphs">Uncertain</text>
<text class="lbl" x="527.4" y="837.6" textLength="281.7" lengthAdjust="spacingAndGlyphs">Confident of other side</text>
</g>
</svg>
</body></html>
